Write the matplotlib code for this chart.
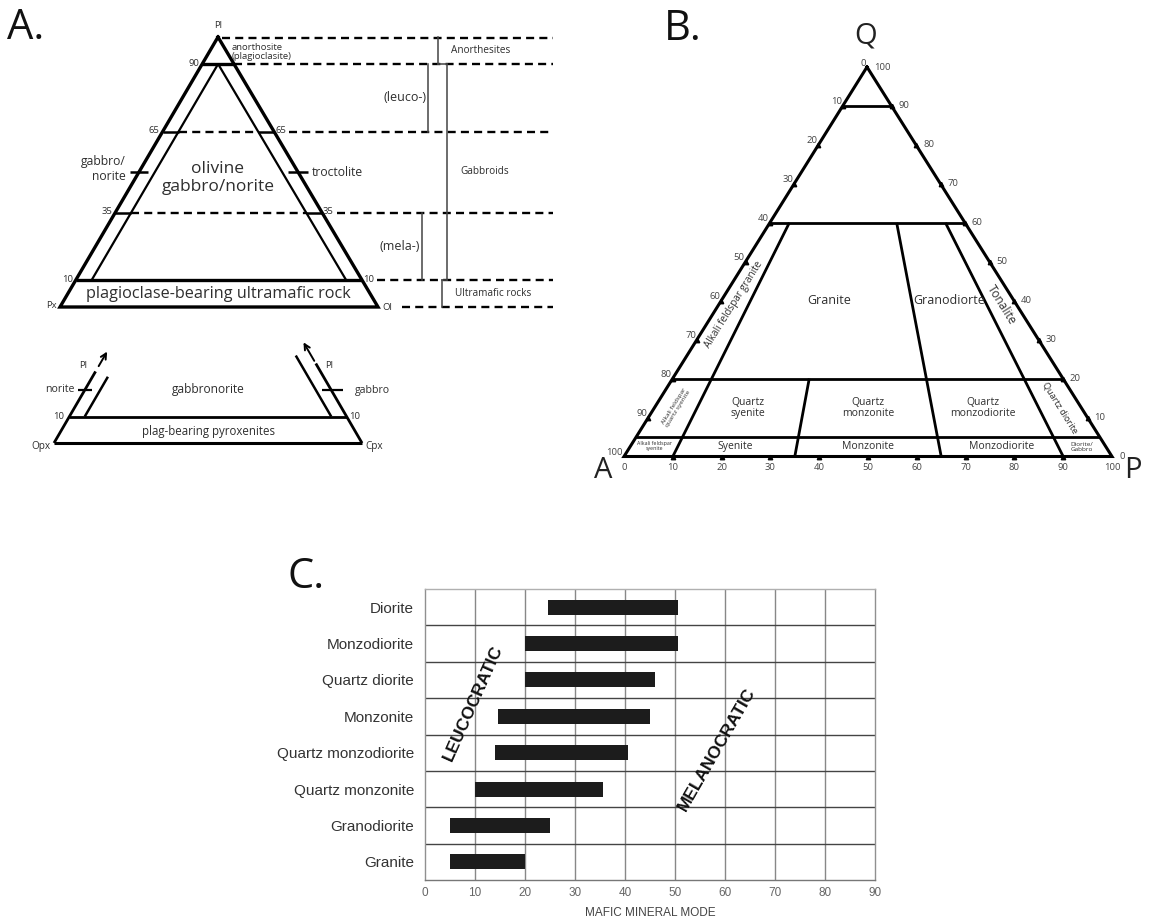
import matplotlib.pyplot as plt

plt.rcParams["font.family"] = ["Open Sans", "DejaVu Sans"]

# ---------------- data ----------------
# Panel A (upper): Pl - Px - Ol triangle, boundaries in % plagioclase
pl_levels = [90, 65, 35, 10]
pl_level_labels = ["90", "65", "35", "10"]
inner_limit = 5            # % Ol (left line) / % Px (right line)
name_tick_pl = 50          # where gabbro/norite and troctolite are marked

group_names = ["Anorthesites", "Gabbroids", "Ultramafic rocks"]
group_top = [100, 90, 10]
group_bottom = [90, 10, 0]
sub_names = ["(leuco-)", "(mela-)"]
sub_top = [90, 35]
sub_bottom = [65, 10]

# Panel A (lower): Opx - Cpx - Pl, only the base of the triangle
pyx_level = 10
pyx_inner = 5
pyx_tick = 20
pyx_outer_top = [27, 30]   # left / right outer line ends (% Pl)
pyx_inner_top = [25, 33]
pyx_arrow_from = [29, 31]
pyx_arrow_to = [34.5, 38]

# Panel B: QAP, boundaries in % Q and in P/(A+P)
q_lines = [90, 60, 20, 5]
ratio_lines = [10, 35, 65, 90]
ratio_top = [60, 20, 60, 60]
edge_ticks = [10, 20, 30, 40, 50, 60, 70, 80, 90]
edge_labels = [0, 10, 20, 30, 40, 50, 60, 70, 80, 90, 100]

field_names = ["Granite", "Granodiorte", "Tonalite", "Alkali feldspar granite",
               "Quartz\nsyenite", "Quartz\nmonzonite", "Quartz\nmonzodiorite",
               "Quartz diorite", "Alkali feldspar\nquartz syenite",
               "Alkali feldspar\nsyenite", "Syenite", "Monzonite",
               "Monzodiorite", "Diorite/\nGabbro"]
field_q = [40, 40, 39, 39, 12.5, 12.5, 12.5, 12.5, 12.5, 2.6, 2.5, 2.5, 2.5, 2.5]
field_r = [37, 78, 95, 5, 22, 50, 77, 95, 5, 5, 22, 50, 78, 95]

# Panel C: mafic mineral mode ranges
rocks = ["Diorite", "Monzodiorite", "Quartz diorite", "Monzonite",
         "Quartz monzodiorite", "Quartz monzonite", "Granodiorite", "Granite"]
mafic_min = [24.5, 20, 20, 14.5, 14, 10, 5, 5]
mafic_max = [50.5, 50.5, 46, 45, 40.5, 35.5, 25, 20]
mode_ticks = [0, 10, 20, 30, 40, 50, 60, 70, 80, 90]

# ---------------- figure ----------------
fig = plt.figure(figsize=(11.49, 9.19), dpi=100)
ov = fig.add_axes([0, 0, 1, 1])
ov.set_xlim(0, 1149)
ov.set_ylim(919, 0)
ov.axis("off")

TXT = "#2e2e2e"


def tern(tri, a, b, c):
    (xa, ya), (xb, yb), (xc, yc) = tri
    s = a + b + c
    return ((a * xa + b * xb + c * xc) / s, (a * ya + b * yb + c * yc) / s)


def seg(p, q, lw=2.2, **kw):
    ov.plot([p[0], q[0]], [p[1], q[1]], color=kw.pop("color", "black"), lw=lw,
            solid_capstyle="butt", **kw)


def dash(x0, x1, y):
    ov.plot([x0, x1], [y, y], color="black", lw=1.7, dashes=(3.4, 2.2))


# ---- panel A, upper triangle ----
triA = [(218, 37), (60, 307), (378, 307)]   # Pl, Px, Ol
corners = [tern(triA, 100, 0, 0), tern(triA, 0, 100, 0), tern(triA, 0, 0, 100)]
ov.plot([p[0] for p in corners + corners[:1]], [p[1] for p in corners + corners[:1]],
        color="black", lw=2.4, solid_joinstyle="miter")
DASH_END = 553

for p, lab in zip(pl_levels, pl_level_labels):
    L = tern(triA, p, 100 - p, 0)
    R = tern(triA, p, 0, 100 - p)
    Li = tern(triA, p, 100 - p - inner_limit, inner_limit)
    Ri = tern(triA, p, inner_limit, 100 - p - inner_limit)
    if p in (90, 10):
        seg(L, R, lw=2.4)
    else:
        seg(L, Li, lw=1.8)
        seg(Ri, R, lw=1.8)
        dash(Li[0], Ri[0], L[1])
    ov.text(L[0] - 3, L[1] - 1, lab, ha="right", va="center", fontsize=6.8, color=TXT)
    if p == 90:
        dash(R[0], DASH_END, R[1])
    else:
        ov.text(R[0] + 1, R[1] - 1, lab, ha="left", va="center", fontsize=6.8, color=TXT)
        dash(R[0] + 15, DASH_END, R[1])

top = corners[0]
dash(top[0] + 4, DASH_END, top[1] + 1)
dash(corners[2][0] + 24, DASH_END, corners[2][1])

# inner lines (Ol = 5 on the left, Px = 5 on the right)
seg(tern(triA, 10, 100 - 10 - inner_limit, inner_limit),
    tern(triA, 90, 100 - 90 - inner_limit, inner_limit), lw=1.6)
seg(tern(triA, 10, inner_limit, 100 - 10 - inner_limit),
    tern(triA, 90, inner_limit, 100 - 90 - inner_limit), lw=1.6)

# name ticks
tl = tern(triA, name_tick_pl, 100 - name_tick_pl, 0)
tr = tern(triA, name_tick_pl, 0, 100 - name_tick_pl)
seg((tl[0] - 9, tl[1]), (tl[0] + 9, tl[1]), lw=1.8)
seg((tr[0] - 10, tr[1]), (tr[0] + 10, tr[1]), lw=1.8)
ov.text(tl[0] - 13, tl[1] - 3, "gabbro/\nnorite", ha="right", va="center",
        fontsize=8.7, color=TXT, linespacing=1.1)
ov.text(tr[0] + 14, tr[1], "troctolite", ha="left", va="center", fontsize=8.7, color=TXT)

ov.text(top[0], top[1] - 11, "Pl", ha="center", va="center", fontsize=6.8, color=TXT)
ov.text(top[0] + 14, top[1] + 15, "anorthosite\n(plagioclasite)", ha="left", va="center",
        fontsize=6.8, color=TXT, linespacing=1.05)
ov.text(corners[1][0] - 3, corners[1][1] - 2, "Px", ha="right", va="center", fontsize=6.8, color=TXT)
ov.text(corners[2][0] + 4, corners[2][1], "Ol", ha="left", va="center", fontsize=6.8, color=TXT)
ov.text(218, 178, "olivine\ngabbro/norite", ha="center", va="center", fontsize=12.5,
        color=TXT, linespacing=1.12)
ov.text(218, 294, "plagioclase-bearing ultramafic rock", ha="center", va="center",
        fontsize=11.7, color=TXT)


def ylev(p):
    return tern(triA, p, 100 - p, 0)[1]


# group brackets
gx = [438, 447, 442]
for name, t, b, x in zip(group_names, group_top, group_bottom, gx):
    y0, y1 = ylev(t), ylev(b)
    ov.plot([x, x], [y0, y1], color="#444444", lw=1.1)
    ov.text(x + 13, (y0 + y1) / 2, name, ha="left", va="center", fontsize=7.2, color=TXT)
ov.plot([438, 447], [ylev(90), ylev(90)], color="#444444", lw=1.1)
ov.plot([442, 447], [ylev(10), ylev(10)], color="#444444", lw=1.1)
sx = [428, 422]
for name, t, b, x in zip(sub_names, sub_top, sub_bottom, sx):
    y0, y1 = ylev(t), ylev(b)
    ov.plot([x, x], [y0, y1], color="#444444", lw=1.1)
    ov.text(x - 2, (y0 + y1) / 2, name, ha="right", va="center", fontsize=9, color=TXT)

# ---- panel A, lower (pyroxenite base) ----
triP = [(208, 178), (54, 443), (362, 443)]   # Pl, Opx, Cpx
opx = tern(triP, 0, 100, 0)
cpx = tern(triP, 0, 0, 100)
seg(opx, cpx, lw=2.2)
seg(opx, tern(triP, pyx_outer_top[0], 100 - pyx_outer_top[0], 0), lw=2.0)
seg(cpx, tern(triP, pyx_outer_top[1], 0, 100 - pyx_outer_top[1]), lw=2.0)
L10 = tern(triP, pyx_level, 100 - pyx_level, 0)
R10 = tern(triP, pyx_level, 0, 100 - pyx_level)
seg(L10, R10, lw=2.0)
seg(tern(triP, pyx_level, 100 - pyx_level - pyx_inner, pyx_inner),
    tern(triP, pyx_inner_top[0], 100 - pyx_inner_top[0] - pyx_inner, pyx_inner), lw=1.8)
seg(tern(triP, pyx_level, pyx_inner, 100 - pyx_level - pyx_inner),
    tern(triP, pyx_inner_top[1], pyx_inner, 100 - pyx_inner_top[1] - pyx_inner), lw=1.8)
arrow_kw = dict(arrowstyle="->", lw=1.4, color="black", shrinkA=0, shrinkB=0,
                mutation_scale=10)
ov.annotate("", xy=tern(triP, pyx_arrow_to[0], 100 - pyx_arrow_to[0], 0),
            xytext=tern(triP, pyx_arrow_from[0], 100 - pyx_arrow_from[0], 0),
            arrowprops=arrow_kw)
ov.annotate("", xy=tern(triP, pyx_arrow_to[1], 0, 100 - pyx_arrow_to[1]),
            xytext=tern(triP, pyx_arrow_from[1], 0, 100 - pyx_arrow_from[1]),
            arrowprops=arrow_kw)
pl_l = tern(triP, pyx_tick, 100 - pyx_tick, 0)
pl_r = tern(triP, pyx_tick, 0, 100 - pyx_tick)
seg((pl_l[0] - 7, pl_l[1]), (pl_l[0] + 7, pl_l[1]), lw=1.6)
seg((pl_r[0] - 9, pl_r[1]), (pl_r[0] + 12, pl_r[1]), lw=1.6)
ov.text(pl_l[0] - 10, pl_l[1], "norite", ha="right", va="center", fontsize=7.6, color=TXT)
ov.text(pl_r[0] + 24, pl_r[1], "gabbro", ha="left", va="center", fontsize=7.6, color=TXT)
ov.text(83, 366, "Pl", ha="center", va="center", fontsize=6.8, color=TXT)
ov.text(329, 366, "Pl", ha="center", va="center", fontsize=6.8, color=TXT)
ov.text(L10[0] - 5, L10[1], "10", ha="right", va="center", fontsize=6.8, color=TXT)
ov.text(R10[0] + 3, R10[1], "10", ha="left", va="center", fontsize=6.8, color=TXT)
ov.text(opx[0] - 3, opx[1] + 3, "Opx", ha="right", va="center", fontsize=7.2, color=TXT)
ov.text(cpx[0] + 3, cpx[1] + 3, "Cpx", ha="left", va="center", fontsize=7.2, color=TXT)
ov.text(208, 390, "gabbronorite", ha="center", va="center", fontsize=8.6, color=TXT)
ov.text(208, 431, "plag-bearing pyroxenites", ha="center", va="center", fontsize=8.3, color=TXT)

# ---- panel B, QAP ----
triQ = [(867, 67), (624, 456.5), (1112, 456.5)]   # Q, A, P


def qap(q, r):
    return tern(triQ, q, (100 - q) * (100 - r) / 100, (100 - q) * r / 100)


outer = [qap(100, 0), qap(0, 0), qap(0, 100), qap(100, 0)]
ov.plot([p[0] for p in outer], [p[1] for p in outer], color="black", lw=2.2,
        solid_joinstyle="miter")
for q in q_lines:
    seg(qap(q, 0), qap(q, 100), lw=2.0)
for r, qt in zip(ratio_lines, ratio_top):
    seg(qap(qt, r), qap(0, r), lw=2.0)

for v in edge_ticks:
    for p in (qap(100 - v, 0), qap(v, 100), qap(0, v)):
        ov.plot(p[0], p[1], marker="^", ms=3.2, color="black", zorder=3)
for v in edge_labels:
    x, y = qap(100 - v, 0)
    ov.text(x - 1, y - 4, str(v), ha="right", va="center", fontsize=6.8, color="#444444")
    x, y = qap(v, 100)
    ov.text(x + 7, y, str(v), ha="left", va="center", fontsize=6.8, color="#444444")
    x, y = qap(0, v)
    ov.text(x, y + 11, str(v), ha="center", va="center", fontsize=6.8, color="#444444")

ov.text(866, 36, "Q", ha="center", va="center", fontsize=21, color="#222222")
ov.text(603, 470, "A", ha="center", va="center", fontsize=21, color="#222222")
ov.text(1133, 470, "P", ha="center", va="center", fontsize=21, color="#222222")

field_size = [9, 9, 8.5, 7.1, 7.5, 7.5, 7.5, 6.6, 4.6, 3.8, 7.5, 7.5, 7.5, 4.6]
field_rot = [0, 0, -58, 58, 0, 0, 0, -58, 58, 0, 0, 0, 0, 0]
for name, q, r, fs, rot in zip(field_names, field_q, field_r, field_size, field_rot):
    x, y = qap(q, r)
    ov.text(x, y, name, ha="center", va="center", fontsize=fs, rotation=rot,
            rotation_mode="anchor", color=TXT, linespacing=1.05)

# panel letters
for lab, x, y in [("A.", 7, 39), ("B.", 664, 40), ("C.", 287, 588)]:
    ov.text(x, y, lab, ha="left", va="baseline", fontsize=30, color="#111111")

# ---- panel C ----
axc = fig.add_axes([425 / 1149, 1 - 880 / 919, 450 / 1149, 291 / 919])
ypos = list(range(len(rocks)))
axc.barh(ypos, [b - a for a, b in zip(mafic_min, mafic_max)], left=mafic_min,
         height=0.41, color="#1c1c1c", zorder=3)
axc.set_xlim(0, 90)
axc.set_ylim(len(rocks) - 0.5, -0.5)
for x in mode_ticks[1:-1]:
    axc.axvline(x, color="#888888", lw=1.0, zorder=1)
for i in range(1, len(rocks)):
    axc.axhline(i - 0.5, color="#444444", lw=1.0, zorder=1)
for s, c in zip(["top", "left", "right", "bottom"], ["#b0b0b0", "#909090", "#909090", "#777777"]):
    axc.spines[s].set_color(c)
    axc.spines[s].set_linewidth(1.0)
axc.set_yticks(ypos)
axc.set_yticklabels(rocks, family="Liberation Sans", fontsize=11, color="#333333")
axc.set_xticks(mode_ticks)
axc.set_xticklabels([str(t) for t in mode_ticks], family="Liberation Sans",
                    fontsize=8.5, color="#666666")
axc.tick_params(length=0, axis="y", pad=8)
axc.tick_params(length=0, axis="x", pad=5)
axc.set_xlabel("MAFIC MINERAL MODE", family="Liberation Sans", fontsize=8.5,
               color="#444444", labelpad=6)
axc.text(9.6, 2.63, "LEUCOCRATIC", rotation=66, ha="center", va="center",
         family="Liberation Sans", fontweight="bold", fontsize=12.5, color="#111111", zorder=4)
axc.text(58.4, 3.9, "MELANOCRATIC", rotation=60, ha="center", va="center",
         family="Liberation Sans", fontweight="bold", fontsize=12.5, color="#111111", zorder=4)

fig.savefig("out.png", dpi=100, facecolor="white")
